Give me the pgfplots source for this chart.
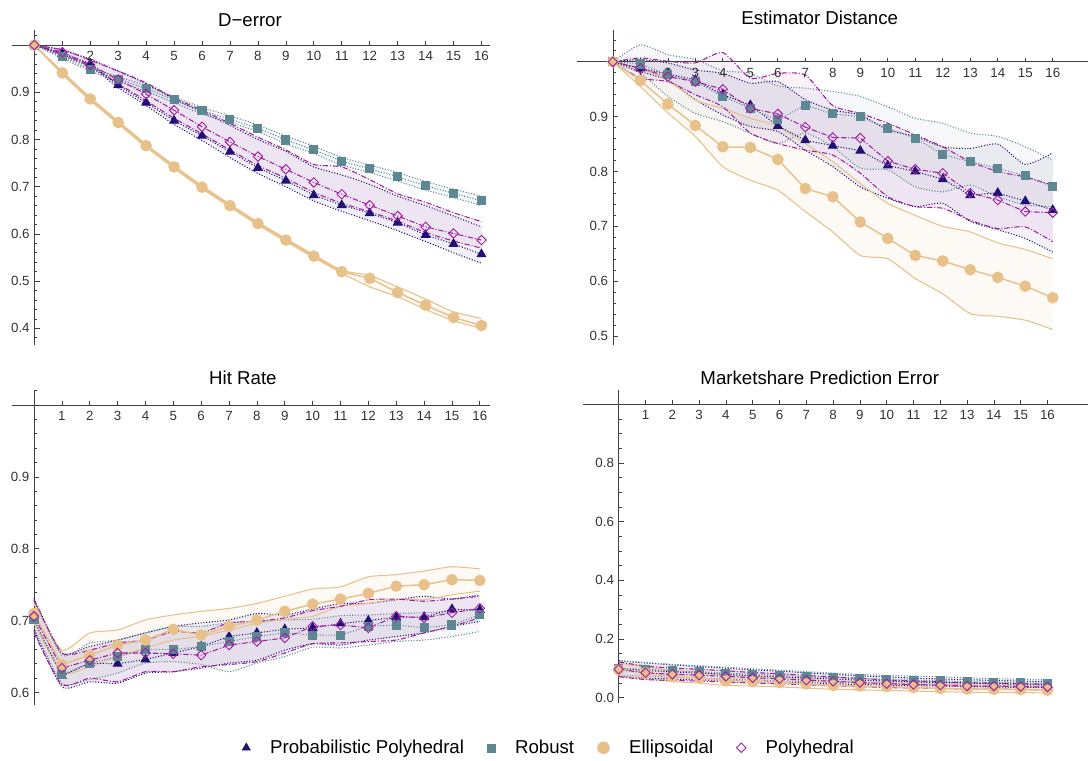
\documentclass[border=0pt]{standalone}
\usepackage{fontspec}
\setmainfont{Liberation Sans}
\usepackage{pgfplots}
\usepackage{pgfplotstable}
\pgfplotsset{compat=1.18}
\usepgfplotslibrary{fillbetween}

\definecolor{ppc}{HTML}{1F1175}
\definecolor{rbc}{HTML}{5E8794}
\definecolor{elc}{HTML}{E8C08A}
\definecolor{phc}{HTML}{A020A0}

\newcommand{\tickfont}{\fontsize{10}{12}\selectfont}
\newcommand{\bigfont}{\fontsize{14}{16}\selectfont}

% columns: mean / upper / lower for each method
\pgfplotstableread{
x ppm ppu ppl rm ru rl em eu el pm pu pl
0 1.000 1.000 1.000 1.000 1.000 1.000 1.000 1.000 1.000 1.000 1.000 1.000
1 0.982 0.990 0.978 0.975 0.978 0.972 0.941 0.944 0.938 0.985 0.990 0.980
2 0.961 0.970 0.955 0.949 0.953 0.945 0.886 0.889 0.883 0.958 0.968 0.955
3 0.915 0.945 0.910 0.928 0.933 0.923 0.836 0.839 0.833 0.927 0.945 0.918
4 0.878 0.918 0.872 0.908 0.914 0.902 0.787 0.790 0.784 0.896 0.920 0.882
5 0.840 0.886 0.832 0.884 0.890 0.878 0.742 0.745 0.739 0.862 0.888 0.845
6 0.808 0.858 0.798 0.861 0.868 0.854 0.699 0.702 0.696 0.827 0.862 0.812
7 0.774 0.830 0.762 0.843 0.850 0.836 0.660 0.663 0.657 0.795 0.834 0.778
8 0.740 0.800 0.728 0.824 0.831 0.817 0.622 0.625 0.619 0.764 0.805 0.745
9 0.713 0.775 0.700 0.799 0.807 0.791 0.587 0.590 0.584 0.737 0.778 0.718
10 0.682 0.742 0.670 0.778 0.786 0.770 0.553 0.556 0.550 0.709 0.747 0.688
11 0.661 0.725 0.648 0.754 0.762 0.746 0.520 0.523 0.517 0.684 0.742 0.665
12 0.644 0.705 0.628 0.738 0.746 0.730 0.506 0.512 0.488 0.661 0.715 0.647
13 0.624 0.680 0.607 0.721 0.730 0.712 0.476 0.488 0.467 0.638 0.685 0.627
14 0.598 0.660 0.584 0.702 0.711 0.693 0.449 0.462 0.440 0.615 0.667 0.603
15 0.579 0.638 0.560 0.686 0.695 0.677 0.423 0.435 0.416 0.601 0.645 0.585
16 0.557 0.615 0.538 0.670 0.680 0.660 0.406 0.421 0.400 0.587 0.626 0.570
}\tDerr

\pgfplotstableread{
x ppm ppu ppl rm ru rl em eu el pm pu pl
0 1.000 1.000 1.000 1.000 1.000 1.000 1.000 1.000 1.000 1.000 1.000 1.000
1 0.988 1.004 0.982 0.996 1.031 0.979 0.966 0.988 0.955 0.988 1.007 0.970
2 0.978 0.998 0.967 0.976 1.013 0.937 0.923 0.967 0.907 0.973 1.001 0.964
3 0.967 0.985 0.931 0.964 1.004 0.906 0.884 0.930 0.864 0.964 0.998 0.940
4 0.940 0.979 0.903 0.937 0.984 0.891 0.845 0.915 0.809 0.950 1.017 0.918
5 0.921 0.961 0.882 0.915 0.979 0.870 0.844 0.897 0.784 0.915 0.970 0.870
6 0.883 0.964 0.873 0.894 0.956 0.851 0.822 0.883 0.766 0.905 0.979 0.851
7 0.857 0.931 0.839 0.921 0.952 0.870 0.769 0.851 0.727 0.881 0.976 0.839
8 0.847 0.912 0.809 0.905 0.946 0.845 0.754 0.818 0.690 0.862 0.920 0.830
9 0.838 0.903 0.772 0.900 0.937 0.806 0.708 0.778 0.647 0.861 0.906 0.797
10 0.811 0.876 0.751 0.879 0.918 0.803 0.678 0.742 0.641 0.819 0.888 0.754
11 0.800 0.864 0.736 0.861 0.897 0.772 0.647 0.720 0.605 0.804 0.867 0.736
12 0.786 0.845 0.742 0.831 0.888 0.763 0.637 0.700 0.577 0.797 0.845 0.733
13 0.757 0.842 0.709 0.818 0.870 0.775 0.621 0.690 0.541 0.761 0.818 0.711
14 0.761 0.850 0.694 0.806 0.864 0.754 0.607 0.670 0.536 0.748 0.800 0.696
15 0.746 0.813 0.678 0.792 0.845 0.739 0.591 0.658 0.529 0.727 0.790 0.699
16 0.730 0.834 0.653 0.772 0.821 0.736 0.570 0.641 0.512 0.725 0.775 0.672
}\tEst

\pgfplotstableread{
x ppm ppu ppl rm ru rl em eu el pm pu pl
0 0.701 0.731 0.687 0.701 0.729 0.690 0.710 0.724 0.696 0.706 0.729 0.683
1 0.623 0.655 0.608 0.625 0.652 0.613 0.639 0.659 0.628 0.634 0.655 0.611
2 0.641 0.664 0.615 0.641 0.669 0.618 0.652 0.683 0.636 0.645 0.659 0.620
3 0.640 0.673 0.613 0.650 0.673 0.627 0.666 0.687 0.650 0.655 0.669 0.615
4 0.646 0.683 0.627 0.660 0.683 0.641 0.673 0.701 0.662 0.655 0.673 0.629
5 0.655 0.692 0.629 0.660 0.692 0.643 0.688 0.708 0.673 0.654 0.685 0.629
6 0.664 0.697 0.634 0.664 0.692 0.639 0.680 0.713 0.678 0.652 0.683 0.636
7 0.678 0.701 0.641 0.671 0.697 0.629 0.692 0.717 0.687 0.666 0.697 0.639
8 0.683 0.710 0.645 0.678 0.699 0.641 0.701 0.724 0.696 0.671 0.699 0.643
9 0.688 0.708 0.659 0.683 0.701 0.650 0.713 0.734 0.702 0.676 0.704 0.655
10 0.690 0.716 0.668 0.680 0.702 0.663 0.723 0.744 0.706 0.692 0.714 0.668
11 0.696 0.724 0.666 0.680 0.707 0.662 0.730 0.747 0.720 0.694 0.720 0.669
12 0.700 0.724 0.673 0.692 0.708 0.666 0.738 0.761 0.724 0.690 0.729 0.671
13 0.705 0.729 0.678 0.694 0.710 0.671 0.748 0.764 0.730 0.706 0.730 0.673
14 0.705 0.734 0.683 0.690 0.711 0.673 0.750 0.769 0.729 0.704 0.727 0.683
15 0.716 0.730 0.692 0.694 0.713 0.678 0.757 0.775 0.736 0.711 0.730 0.692
16 0.715 0.736 0.699 0.708 0.715 0.685 0.756 0.772 0.741 0.717 0.734 0.704
}\tHit

\pgfplotstableread{
x ppm ppu ppl rm ru rl em eu el pm pu pl
0 0.100 0.127 0.073 0.100 0.125 0.075 0.095 0.118 0.072 0.097 0.122 0.072
1 0.093 0.119 0.067 0.097 0.120 0.074 0.085 0.105 0.065 0.085 0.108 0.062
2 0.088 0.112 0.064 0.092 0.114 0.070 0.072 0.092 0.055 0.080 0.101 0.059
3 0.084 0.107 0.061 0.088 0.109 0.067 0.068 0.087 0.050 0.077 0.097 0.057
4 0.080 0.101 0.059 0.084 0.104 0.064 0.058 0.077 0.042 0.073 0.092 0.054
5 0.075 0.095 0.055 0.080 0.099 0.061 0.055 0.073 0.040 0.068 0.086 0.050
6 0.072 0.091 0.053 0.076 0.094 0.058 0.052 0.069 0.037 0.065 0.082 0.048
7 0.068 0.085 0.051 0.072 0.089 0.055 0.047 0.064 0.033 0.060 0.076 0.044
8 0.064 0.080 0.048 0.068 0.084 0.052 0.042 0.058 0.029 0.056 0.071 0.041
9 0.060 0.075 0.045 0.065 0.080 0.050 0.040 0.055 0.027 0.052 0.066 0.038
10 0.057 0.071 0.043 0.062 0.076 0.048 0.038 0.052 0.025 0.048 0.061 0.035
11 0.054 0.067 0.041 0.060 0.074 0.046 0.035 0.049 0.023 0.045 0.057 0.033
12 0.052 0.064 0.040 0.058 0.071 0.045 0.032 0.046 0.021 0.043 0.054 0.032
13 0.050 0.062 0.038 0.055 0.068 0.043 0.030 0.043 0.019 0.040 0.051 0.029
14 0.048 0.059 0.037 0.053 0.065 0.041 0.029 0.042 0.018 0.040 0.050 0.030
15 0.046 0.057 0.035 0.051 0.063 0.040 0.028 0.040 0.018 0.038 0.048 0.028
16 0.045 0.055 0.035 0.050 0.061 0.039 0.026 0.038 0.016 0.037 0.047 0.027
}\tMkt

\pgfplotsset{
  dotl/.style={line width=0.8pt, dash pattern=on 0.8pt off 1.3pt},
  ppline/.style={ppc, dotl, forget plot},
  rbline/.style={rbc, dotl, forget plot},
  elline/.style={elc, line width=0.8pt, solid, forget plot},
  phline/.style={phc, line width=0.8pt, dash pattern=on 4pt off 1.4pt on 0.8pt off 1.4pt, forget plot},
  bnd/.style={smooth, tension=0.35, mark=none},
  panel/.style={
    scale only axis, clip=false,
    axis y line=middle, axis x line=none,
    axis line style={black!75, line width=0.5pt, -},
    ytick align=inside,
    major tick length=4pt, minor tick length=2.2pt,
    every tick/.style={black!75, line width=0.5pt},
    yticklabel style={font=\tickfont, text=black!80,
      /pgf/number format/.cd, fixed, fixed zerofill, precision=1, assume math mode=true},
    xtick=\empty,
  },
}

\newcommand{\xaxis}[2]{%
  \draw[black!75, line width=0.5pt] (axis cs:#1,1) -- (axis cs:#2,1);
  \pgfplotsinvokeforeach{1,...,16}{%
    \draw[black!75, line width=0.5pt] (axis cs:##1,1) -- ++(0pt,3pt);
    \node[font=\tickfont, text=black!80, anchor=north, inner sep=0pt] at ([yshift=-4.5pt]axis cs:##1,1) {##1};
  }%
}

\newcommand{\methods}[1]{%
  \addplot[ppline, bnd, name path=ppu] table[x=x,y=ppu]{#1};
  \addplot[ppline, bnd, name path=ppl] table[x=x,y=ppl]{#1};
  \addplot[rbline, bnd, name path=ru] table[x=x,y=ru]{#1};
  \addplot[rbline, bnd, name path=rl] table[x=x,y=rl]{#1};
  \addplot[elline, bnd, name path=eu] table[x=x,y=eu]{#1};
  \addplot[elline, bnd, name path=el] table[x=x,y=el]{#1};
  \addplot[phline, bnd, name path=pu] table[x=x,y=pu]{#1};
  \addplot[phline, bnd, name path=pl] table[x=x,y=pl]{#1};
  \addplot[fill=ppc, fill opacity=0.06, forget plot] fill between[of=ppu and ppl];
  \addplot[fill=rbc, fill opacity=0.06, forget plot] fill between[of=ru and rl];
  \addplot[fill=elc, fill opacity=0.08, forget plot] fill between[of=eu and el];
  \addplot[fill=phc, fill opacity=0.06, forget plot] fill between[of=pu and pl];
  \addplot[ppline, mark=triangle*, mark size=3.6pt, mark options={solid, fill=ppc, draw=ppc}] table[x=x,y=ppm]{#1};
  \addplot[rbline, mark=square*, mark size=3pt, mark options={solid, fill=rbc, draw=rbc}] table[x=x,y=rm]{#1};
  \addplot[elline, line width=1.1pt, mark=*, mark size=3.8pt, mark options={solid, fill=elc, draw=elc}] table[x=x,y=em]{#1};
  \addplot[phline, mark=square, mark size=2.5pt, mark options={solid, rotate=45, draw=phc, fill=white, line width=0.7pt}] table[x=x,y=pm]{#1};
}

\begin{document}
\begin{tikzpicture}
\path (0pt,0pt) rectangle (816pt,567.75pt);

% D-error
\begin{axis}[panel, at={(9pt,309pt)}, anchor=south west,
  width=358.5pt, height=236.25pt,
  xmin=-0.8, xmax=16.3, ymin=0.365, ymax=1.032,
  ytick={0.4,0.5,0.6,0.7,0.8,0.9},
  minor ytick={0.38,0.40,...,1.02}]
\methods{\tDerr}
\xaxis{-0.8}{16.3}
\end{axis}

% Estimator Distance
\begin{axis}[panel, at={(432.75pt,309pt)}, anchor=south west,
  width=383.25pt, height=236.25pt,
  xmin=-1.31, xmax=17.27, ymin=0.484, ymax=1.058,
  ytick={0.5,0.6,0.7,0.8,0.9},
  minor ytick={0.50,0.52,...,1.04}]
\methods{\tEst}
\xaxis{-1.31}{17.27}
\end{axis}

% Hit Rate
\begin{axis}[panel, at={(9pt,39pt)}, anchor=south west,
  width=358.5pt, height=236.25pt,
  xmin=-0.79, xmax=16.36, ymin=0.583, ymax=1.021,
  ytick={0.6,0.7,0.8,0.9},
  minor ytick={0.60,0.62,...,1.02}]
\methods{\tHit}
\xaxis{-0.79}{16.36}
\end{axis}

% Marketshare Prediction Error
\begin{axis}[panel, at={(437.25pt,40.5pt)}, anchor=south west,
  width=378.75pt, height=234.6pt,
  xmin=-1.34, xmax=17.5, ymin=-0.017, ymax=1.048,
  ytick={0,0.2,0.4,0.6,0.8},
  minor ytick={0,0.05,...,1.05}]
\methods{\tMkt}
\xaxis{-1.34}{17.5}
\end{axis}

\node[font=\bigfont, anchor=base] at (187.5pt,547.5pt) {D−error};
\node[font=\bigfont, anchor=base] at (615pt,549pt) {Estimator Distance};
\node[font=\bigfont, anchor=base] at (182.25pt,279pt) {Hit Rate};
\node[font=\bigfont, anchor=base] at (615pt,279pt) {Marketshare Prediction Error};

% legend
\begin{axis}[at={(0pt,0pt)}, anchor=south west, scale only axis,
  width=816pt, height=13.5pt, hide axis,
  xmin=0, xmax=1, ymin=0, ymax=1,
  legend columns=4,
  legend image code/.code={\draw[#1] plot coordinates {(0pt,0pt)};},
  legend style={at={(0.505,0.5)}, anchor=center, draw=none, fill=none,
    font=\bigfont,
    /tikz/every odd column/.append style={column sep=12.75pt},
    /tikz/every even column/.append style={column sep=15.5pt}}]
\addlegendimage{only marks, mark=triangle*, mark size=3.6pt, ppc}
\addlegendentry{Probabilistic Polyhedral}
\addlegendimage{only marks, mark=square*, mark size=3pt, rbc}
\addlegendentry{Robust}
\addlegendimage{only marks, mark=*, mark size=4.5pt, elc}
\addlegendentry{Ellipsoidal}
\addlegendimage{only marks, mark=square, mark size=2.5pt, mark options={rotate=45, line width=0.7pt}, phc}
\addlegendentry{Polyhedral}
\end{axis}
\end{tikzpicture}
\end{document}
